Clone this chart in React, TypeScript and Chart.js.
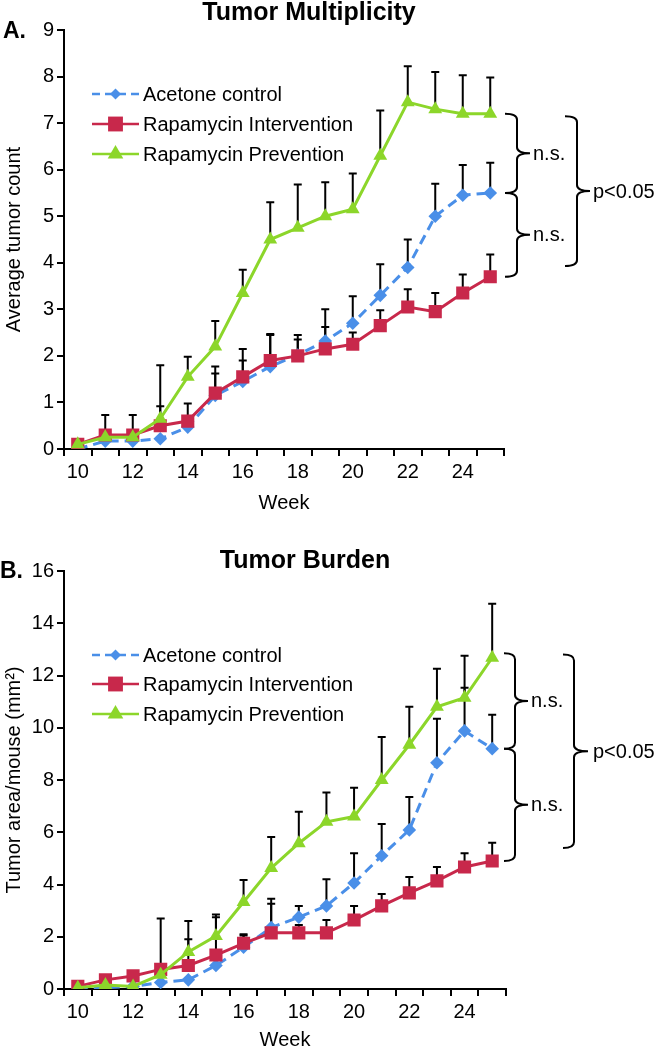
import React, { useEffect, useRef } from 'react';
import { Chart, registerables } from 'chart.js';

Chart.register(...registerables);

// ---------- data ----------
const weeks = ['10', '11', '12', '13', '14', '15', '16', '17', '18', '19', '20', '21', '22', '23', '24', '25'];
const seriesLabels = ['Acetone control', 'Rapamycin Intervention', 'Rapamycin Prevention'];

// A. Tumor multiplicity (average tumor count)
const multAcetone = [0, 0.17, 0.17, 0.22, 0.47, 1.15, 1.45, 1.77, 2.02, 2.32, 2.7, 3.3, 3.9, 5.0, 5.45, 5.5];
const multIntervention = [0.1, 0.3, 0.3, 0.5, 0.6, 1.2, 1.55, 1.9, 2.0, 2.15, 2.25, 2.65, 3.05, 2.95, 3.35, 3.7];
const multPrevention = [0.1, 0.25, 0.25, 0.65, 1.55, 2.2, 3.35, 4.5, 4.75, 5.0, 5.15, 6.3, 7.45, 7.3, 7.2, 7.2];
const multAcetoneErr = [0, 0, 0, 0, 0, 0.47, 0.45, 0.68, 0.33, 0.68, 0.58, 0.67, 0.6, 0.7, 0.65, 0.65];
const multInterventionErr = [0, 0.43, 0.43, 0.42, 0.38, 0.57, 0.6, 0.57, 0.45, 0.47, 0.25, 0.33, 0.38, 0.4, 0.4, 0.48];
const multPreventionErr = [0, 0, 0, 1.15, 0.43, 0.55, 0.5, 0.8, 0.93, 0.73, 0.77, 0.97, 0.77, 0.8, 0.83, 0.78];
const multYTicks = { max: 9, step: 1 };

// B. Tumor burden (tumor area / mouse, mm2)
const burdAcetone = [0, 0.05, 0.1, 0.25, 0.35, 0.9, 1.6, 2.35, 2.75, 3.18, 4.06, 5.1, 6.09, 8.66, 9.88, 9.2];
const burdIntervention = [0.1, 0.35, 0.5, 0.75, 0.9, 1.3, 1.75, 2.15, 2.15, 2.15, 2.64, 3.18, 3.68, 4.14, 4.67, 4.9];
const burdPrevention = [0.05, 0.15, 0.1, 0.55, 1.42, 2.03, 3.33, 4.63, 5.58, 6.4, 6.6, 8.0, 9.35, 10.8, 11.15, 12.68];
const burdAcetoneErr = [0, 0, 0, 0, 0, 0, 0.5, 1.1, 0.43, 1.02, 1.14, 1.22, 1.26, 1.68, 1.65, 1.3];
const burdInterventionErr = [0, 0, 0, 0, 1.0, 1.45, 0.3, 1.11, 0.3, 0.49, 0.54, 0.46, 0.61, 0.53, 0.53, 0.7];
const burdPreventionErr = [0, 0, 0, 2.15, 1.18, 0.82, 0.84, 1.19, 1.2, 1.12, 1.1, 1.65, 1.45, 1.46, 1.61, 2.07];
const burdYTicks = { max: 16, step: 2 };

// significance brackets [top value, bottom value, label]
const multBrackets: [number, number, string][] = [[7.2, 5.5, 'n.s.'], [5.5, 3.7, 'n.s.'], [7.15, 3.93, 'p<0.05']];
const burdBrackets: [number, number, string][] = [[12.85, 9.2, 'n.s.'], [9.2, 4.9, 'n.s.'], [12.8, 5.4, 'p<0.05']];

// ---------- styles ----------
const FONT = '"Liberation Sans", Arial, Helvetica, sans-serif';
const BLUE = '#4a8fe8';
const RED = '#c8284b';
const GREEN = '#8cd62a';
const colors = [BLUE, RED, GREEN];
const markers = ['rectRot', 'rect', 'triangle'];
const markerRadius = [6.8, 9.3, 8];

type Panel = {
  title: string;
  titleX: number;
  titleY: number;
  letter: string;
  letterX: number;
  letterY: number;
  yTitle: string;
  yMax: number;
  yStep: number;
  padTop: number;
  padRight: number;
  xAxisHeight: number;
  xTitlePad: number;
  values: number[][];
  errs: number[][];
  legendRows: number[];
  brackets: [number, number, string][];
  innerX: number[]; // left, vertical, tip, text
  outerX: number[];
};

function drawMarker(ctx: CanvasRenderingContext2D, kind: number, x: number, y: number, r: number) {
  ctx.beginPath();
  if (kind === 0) {
    ctx.moveTo(x - r, y);
    ctx.lineTo(x, y - r);
    ctx.lineTo(x + r, y);
    ctx.lineTo(x, y + r);
  } else if (kind === 1) {
    const s = r * Math.SQRT1_2;
    ctx.rect(x - s, y - s, 2 * s, 2 * s);
  } else {
    for (let k = 0; k < 3; k++) {
      const a = (k * 2 * Math.PI) / 3;
      const px = x + Math.sin(a) * r;
      const py = y - Math.cos(a) * r;
      if (k === 0) ctx.moveTo(px, py);
      else ctx.lineTo(px, py);
    }
  }
  ctx.closePath();
  ctx.fill();
}

function drawBrace(ctx: CanvasRenderingContext2D, xl: number, xv: number, xt: number, yt: number, yb: number) {
  const ym = (yt + yb) / 2;
  const r = 6;
  ctx.beginPath();
  ctx.moveTo(xl, yt);
  ctx.quadraticCurveTo(xv, yt, xv, yt + r);
  ctx.lineTo(xv, ym - r);
  ctx.quadraticCurveTo(xv, ym, xt, ym);
  ctx.moveTo(xt, ym);
  ctx.quadraticCurveTo(xv, ym, xv, ym + r);
  ctx.lineTo(xv, yb - r);
  ctx.quadraticCurveTo(xv, yb, xl, yb);
  ctx.stroke();
}

function overlay(p: Panel) {
  return {
    id: 'overlay',
    beforeDatasetsDraw(chart: any) {
      const ctx: CanvasRenderingContext2D = chart.ctx;
      const ys = chart.scales.y;
      ctx.save();
      ctx.strokeStyle = '#000';
      ctx.lineWidth = 2;
      p.values.forEach((vals, i) => {
        const meta = chart.getDatasetMeta(i);
        vals.forEach((v, j) => {
          const e = p.errs[i][j];
          if (!e) return;
          const x = meta.data[j].x;
          const y0 = ys.getPixelForValue(v);
          const y1 = ys.getPixelForValue(v + e);
          ctx.beginPath();
          ctx.moveTo(x, y0);
          ctx.lineTo(x, y1);
          ctx.moveTo(x - 4, y1);
          ctx.lineTo(x + 4, y1);
          ctx.stroke();
        });
      });
      ctx.restore();
    },
    afterDraw(chart: any) {
      const ctx: CanvasRenderingContext2D = chart.ctx;
      const ys = chart.scales.y;
      ctx.save();
      ctx.fillStyle = '#000';
      ctx.textBaseline = 'alphabetic';
      ctx.textAlign = 'center';
      ctx.font = `bold 25px ${FONT}`;
      ctx.fillText(p.title, p.titleX, p.titleY);
      ctx.textAlign = 'left';
      ctx.font = `bold 23px ${FONT}`;
      ctx.fillText(p.letter, p.letterX, p.letterY);

      // legend
      ctx.font = `20px ${FONT}`;
      ctx.textBaseline = 'middle';
      p.legendRows.forEach((ly, i) => {
        ctx.strokeStyle = colors[i];
        ctx.fillStyle = colors[i];
        ctx.lineWidth = 2.5;
        ctx.setLineDash(i === 0 ? [8, 5] : []);
        ctx.beginPath();
        ctx.moveTo(92, ly);
        ctx.lineTo(139, ly);
        ctx.stroke();
        ctx.setLineDash([]);
        drawMarker(ctx, i, 115.5, ly, i === 0 ? 5.5 : i === 1 ? 10.5 : 9);
        ctx.fillStyle = '#000';
        ctx.fillText(seriesLabels[i], 143, ly + 1);
      });

      // brackets
      ctx.strokeStyle = '#000';
      ctx.lineWidth = 2;
      ctx.font = `20px ${FONT}`;
      p.brackets.forEach(([top, bot, label], i) => {
        const xs = i < 2 ? p.innerX : p.outerX;
        const yt = ys.getPixelForValue(top);
        const yb = ys.getPixelForValue(bot);
        drawBrace(ctx, xs[0], xs[1], xs[2], yt, yb);
        ctx.fillStyle = '#000';
        ctx.fillText(label, xs[3], (yt + yb) / 2 + 1);
      });
      ctx.restore();
    },
  };
}

function buildChart(canvas: HTMLCanvasElement, p: Panel) {
  const datasets = p.values.map((vals, i) => ({
    label: seriesLabels[i],
    data: vals,
    borderColor: colors[i],
    backgroundColor: colors[i],
    borderWidth: 3,
    borderDash: i === 0 ? [10, 6] : [],
    pointStyle: markers[i],
    pointRadius: markerRadius[i],
    pointHoverRadius: markerRadius[i],
    pointBorderWidth: 0,
    pointBackgroundColor: colors[i],
    tension: 0,
    fill: false,
    order: 2 - i,
  }));
  const tickFont = { family: FONT, size: 20 };
  const titleFont = { family: FONT, size: 20, lineHeight: 1 };
  return new Chart(canvas, {
    type: 'line',
    data: { labels: weeks, datasets },
    options: {
      responsive: false,
      animation: false,
      events: [],
      layout: { padding: { left: 0, top: p.padTop, right: p.padRight, bottom: 0 } },
      plugins: { legend: { display: false }, tooltip: { enabled: false }, title: { display: false } },
      scales: {
        x: {
          type: 'category',
          offset: true,
          grid: { display: true, drawOnChartArea: false, offset: true, tickLength: 7, color: '#000', lineWidth: 2 },
          border: { display: true, color: '#000', width: 2 },
          ticks: {
            autoSkip: false,
            maxRotation: 0,
            padding: 4,
            color: '#000',
            font: tickFont,
            callback: function (this: any, v: any, i: number) {
              return i % 2 === 0 ? this.getLabelForValue(v) : '';
            },
          },
          title: { display: true, text: 'Week', color: '#000', font: titleFont, padding: { top: 0, bottom: p.xTitlePad } },
          afterFit: (s: any) => {
            s.height = p.xAxisHeight;
          },
        },
        y: {
          min: 0,
          max: p.yMax,
          ticks: { stepSize: p.yStep, padding: 3, color: '#000', font: tickFont },
          grid: { display: true, drawOnChartArea: false, tickLength: 7, color: '#000', lineWidth: 2 },
          border: { display: true, color: '#000', width: 2 },
          title: { display: true, text: p.yTitle, color: '#000', font: { family: FONT, size: 20, lineHeight: 1.2 }, padding: { top: 2, bottom: 0 } },
          afterFit: (s: any) => {
            s.width = 64;
          },
        },
      },
    },
    plugins: [overlay(p)],
  } as any);
}

const panelA: Panel = {
  title: 'Tumor Multiplicity',
  titleX: 309,
  titleY: 20,
  letter: 'A.',
  letterX: 3,
  letterY: 38,
  yTitle: 'Average tumor count',
  yMax: multYTicks.max,
  yStep: multYTicks.step,
  padTop: 30,
  padRight: 155,
  xAxisHeight: 76,
  xTitlePad: 12,
  values: [multAcetone, multIntervention, multPrevention],
  errs: [multAcetoneErr, multInterventionErr, multPreventionErr],
  legendRows: [94, 124, 154],
  brackets: multBrackets,
  innerX: [505, 517, 530, 533],
  outerX: [565, 577, 590, 593],
};

const panelB: Panel = {
  title: 'Tumor Burden',
  titleX: 305,
  titleY: 43,
  letter: 'B.',
  letterX: 0,
  letterY: 53,
  yTitle: 'Tumor area/mouse (mm²)',
  yMax: burdYTicks.max,
  yStep: burdYTicks.step,
  padTop: 46,
  padRight: 153,
  xAxisHeight: 61,
  xTitlePad: 0,
  values: [burdAcetone, burdIntervention, burdPrevention],
  errs: [burdAcetoneErr, burdInterventionErr, burdPreventionErr],
  legendRows: [130, 159, 189],
  brackets: burdBrackets,
  innerX: [504, 515, 528, 531],
  outerX: [563, 574, 588, 593],
};

function ChartPanel({ panel }: { panel: Panel }) {
  const ref = useRef<HTMLCanvasElement | null>(null);
  useEffect(() => {
    if (!ref.current) return;
    const chart = buildChart(ref.current, panel);
    return () => chart.destroy();
  }, [panel]);
  return <canvas ref={ref} width={659} height={525} style={{ display: 'block', width: 659, height: 525 }} />;
}

export default function App() {
  useEffect(() => {
    document.body.style.margin = '0';
    document.body.style.background = '#fff';
  }, []);
  return (
    <div style={{ width: 659, height: 1050, background: '#fff' }}>
      <ChartPanel panel={panelA} />
      <ChartPanel panel={panelB} />
    </div>
  );
}
